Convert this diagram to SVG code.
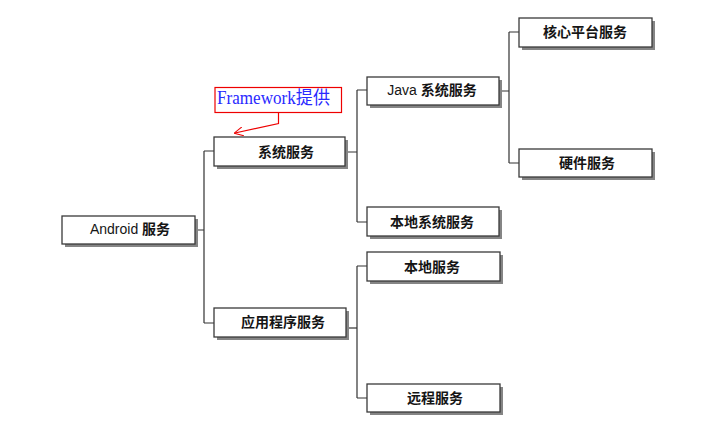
<svg xmlns="http://www.w3.org/2000/svg" width="728" height="423" viewBox="0 0 728 423">
<defs>
<style>
.box{fill:#fff;stroke:#3a3a3a;stroke-width:1.3}
.sh{fill:#858585}
.lbl{font-family:"Liberation Sans","Noto Sans CJK SC",sans-serif;font-size:14px;font-weight:700;fill:#151515;text-anchor:middle}
.lat{font-weight:400}
.con{fill:none;stroke:#333;stroke-width:1.2}
</style>
<marker id="ah" viewBox="0 0 10 10" refX="9" refY="5" markerWidth="9" markerHeight="9" orient="auto" markerUnits="userSpaceOnUse">
<path d="M0,0 L10,5 L0,10" fill="none" stroke="#e00" stroke-width="1.2"/>
</marker>
</defs>
<rect width="728" height="423" fill="#fff"/>
<g id="connectors">
<path class="con" d="M195 230 H204 M204 151 V323 M204 151 H214 M204 323 H214"/>
<path class="con" d="M346 152 H357 M357 90 V222 M357 90 H367 M357 222 H367"/>
<path class="con" d="M499 91 H509 M509 32 V163 M509 32 H519 M509 163 H519"/>
<path class="con" d="M357 266 V398 M357 266 H367 M357 398 H367"/>
<path class="con" d="M346 328 H357" stroke-width="2"/>
</g>
<g id="n-android"><rect class="sh" x="65" y="219" width="133" height="28"/><rect class="box" x="62" y="216" width="133" height="28"/><text class="lbl" x="130" y="234"><tspan class="lat">Android</tspan> 服务</text></g>
<g id="n-sys"><rect class="sh" x="217" y="140" width="131" height="29"/><rect class="box" x="214" y="137" width="131" height="29"/><text class="lbl" x="286" y="157">系统服务</text></g>
<g id="n-app"><rect class="sh" x="217" y="311" width="132" height="29"/><rect class="box" x="214" y="308" width="132" height="29"/><text class="lbl" x="283" y="327">应用程序服务</text></g>
<g id="n-java"><rect class="sh" x="370" y="80" width="132" height="28"/><rect class="box" x="367" y="77" width="132" height="28"/><text class="lbl" x="432" y="95"><tspan class="lat">Java</tspan> 系统服务</text></g>
<g id="n-nativesys"><rect class="sh" x="370" y="210" width="132" height="29"/><rect class="box" x="367" y="207" width="132" height="29"/><text class="lbl" x="432" y="227">本地系统服务</text></g>
<g id="n-local"><rect class="sh" x="370" y="255" width="133" height="29"/><rect class="box" x="367" y="252" width="133" height="29"/><text class="lbl" x="432" y="272">本地服务</text></g>
<g id="n-remote"><rect class="sh" x="370" y="387" width="133" height="28"/><rect class="box" x="367" y="384" width="133" height="28"/><text class="lbl" x="435" y="403">远程服务</text></g>
<g id="n-core"><rect class="sh" x="522" y="21" width="133" height="29"/><rect class="box" x="519" y="18" width="133" height="29"/><text class="lbl" x="585" y="37">核心平台服务</text></g>
<g id="n-hw"><rect class="sh" x="522" y="152" width="133" height="28"/><rect class="box" x="519" y="149" width="133" height="28"/><text class="lbl" x="587" y="168">硬件服务</text></g>
<g id="n-note">
<rect x="215" y="87.5" width="126.5" height="25" fill="#fff" stroke="#e00" stroke-width="1.2"/>
<text x="217" y="104" font-family="Liberation Serif,'Noto Sans CJK SC',serif" font-size="18" fill="#2a2aff" textLength="113" lengthAdjust="spacingAndGlyphs">Framework提供</text>
<polyline points="278.5,112.5 278.5,123.5 235,133" fill="none" stroke="#e00" stroke-width="1.2" marker-end="url(#ah)"/>
</g>
</svg>
